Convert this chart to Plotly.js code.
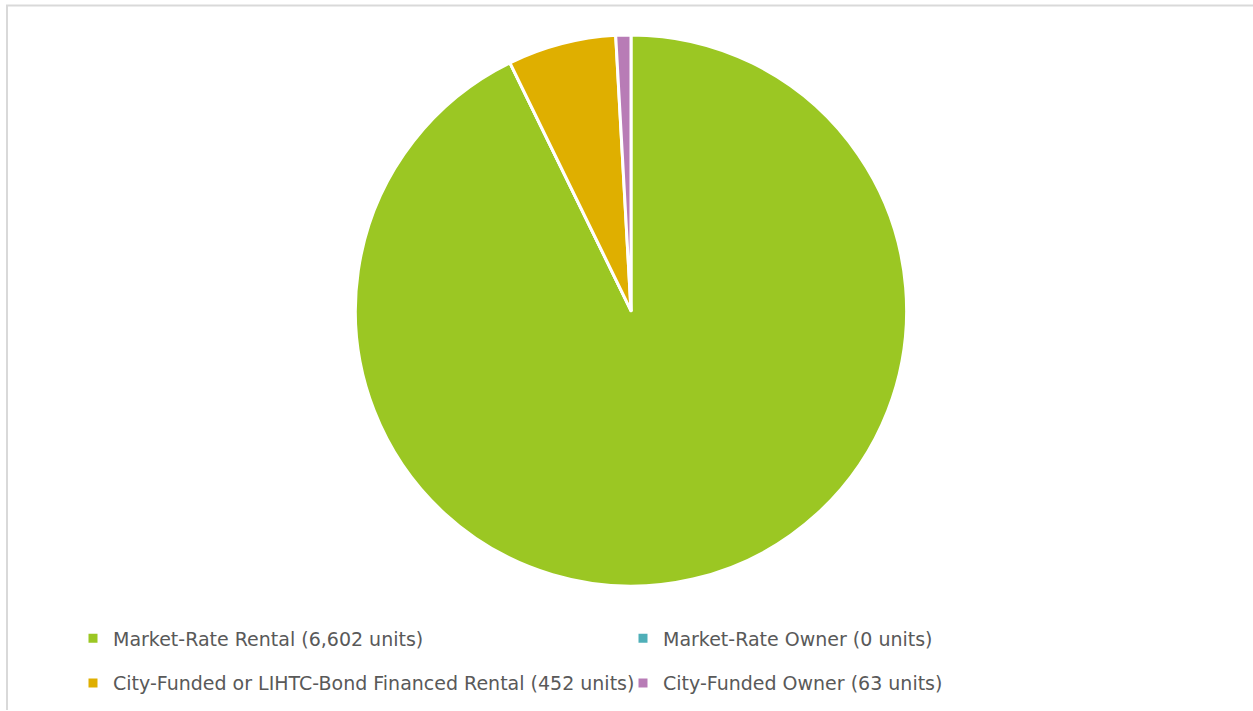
<!DOCTYPE html>
<html>
<head>
<meta charset="utf-8">
<script src="https://cdn.plot.ly/plotly-3.0.1.min.js"></script>
<style>html,body{margin:0;padding:0;background:#fff;}#chart{width:1253px;height:711px;}</style>
</head>
<body>
<div id="chart"></div>
<script>
const categories = [
  "Market-Rate Rental (6,602 units)",
  "Market-Rate Owner (0 units)",
  "City-Funded or LIHTC-Bond Financed Rental (452 units)",
  "City-Funded Owner (63 units)"
];
const units = [6602, 0, 452, 63];
const colors = ["#9BC723", "#4FAFB8", "#DFAF00", "#B87CB6"];

const W = 1253, H = 711;
const legendLabels = categories.map(c => '<span style="font-size:19px;baseline-shift:5px">' + c + '</span>');
const trace = {
  type: "pie",
  labels: legendLabels,
  values: units,
  sort: false,
  direction: "clockwise",
  rotation: 0,
  textinfo: "none",
  hoverinfo: "label+value+percent",
  marker: {colors: colors, line: {color: "#ffffff", width: 3}},
  domain: {x: [(631-276)/W, (631+276)/W], y: [(H-587)/H, (H-35)/H]}
};
const layout = {
  width: W, height: H,
  margin: {l: 0, r: 0, t: 0, b: 0},
  paper_bgcolor: "#ffffff",
  showlegend: true,
  legend: {
    orientation: "h",
    x: 73/W, xanchor: "left",
    y: 0.139, yanchor: "top",
    entrywidth: 505,
    font: {family: "DejaVu Sans, sans-serif", size: 32, color: "#595959"},
    itemwidth: 30,
    traceorder: "normal"
  },
  shapes: [
    {type: "line", xref: "paper", yref: "paper", x0: 6/W, x1: 1, y0: 1 - 5.5/H, y1: 1 - 5.5/H, line: {color: "#D9D9D9", width: 2}},
    {type: "line", xref: "paper", yref: "paper", x0: 7/W, x1: 7/W, y0: 0, y1: 1 - 5.5/H, line: {color: "#D9D9D9", width: 2}}
  ]
};
Plotly.newPlot("chart", [trace], layout, {displayModeBar: false, staticPlot: true});
</script>
</body>
</html>
